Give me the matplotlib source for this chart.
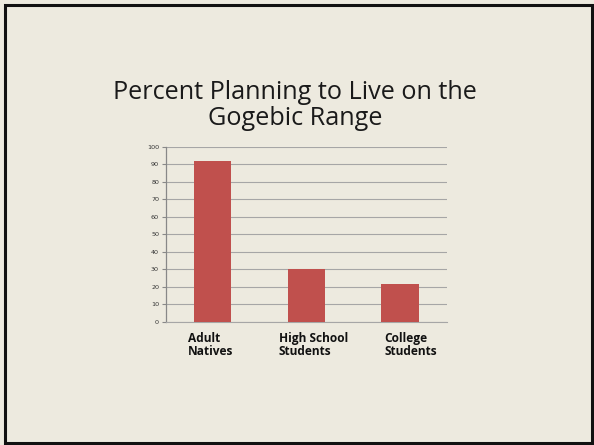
import matplotlib
matplotlib.use("Agg")
import matplotlib.pyplot as plt
from matplotlib.patches import Rectangle
from matplotlib.transforms import ScaledTranslation

categories = ["Adult\nNatives", "High School\nStudents", "College\nStudents"]
values = [91.7, 30.0, 21.7]
yticks = [0, 10, 20, 30, 40, 50, 60, 70, 80, 90, 100]
title_lines = ["Percent Planning to Live on the", "Gogebic Range"]

W, H = 594, 445
bg = "#EDEADF"
fig = plt.figure(figsize=(W / 100, H / 100), dpi=100, facecolor=bg)

# slide border
fig.patches.append(Rectangle((4.5 / W, 2.5 / H), 587.5 / W, 438 / H, transform=fig.transFigure,
                             fill=False, edgecolor="#111111", linewidth=2.2))

# title
fig.text(295 / W, 1 - 99.3 / H, title_lines[0], ha="center", va="baseline",
         fontsize=18.2, family="Open Sans", color="#1a1a1a")
fig.text(295 / W, 1 - 125 / H, title_lines[1], ha="center", va="baseline",
         fontsize=18.2, family="Open Sans", color="#1a1a1a")

ax = fig.add_axes([166 / W, 1 - 322 / H, 280.7 / W, 175.3 / H])
ax.set_facecolor(bg)
x = list(range(len(categories)))
ax.bar(x, values, width=0.4, color="#C0504D", zorder=3)
ax.set_xlim(-0.5, len(categories) - 0.5)
ax.set_ylim(0, 100)
ax.set_yticks(yticks)
ax.set_yticklabels([str(t) for t in yticks], fontsize=4.6, family="DejaVu Sans", color="#333333")
ax.tick_params(axis="y", length=3, width=0.8, color="#888888", pad=2)
ax.yaxis.grid(True, color="#A6A6A6", linewidth=0.8, zorder=0)
ax.set_axisbelow(True)
for s in ["top", "right"]:
    ax.spines[s].set_visible(False)
ax.spines["left"].set_color("#888888")
ax.spines["bottom"].set_color("#A6A6A6")
ax.spines["left"].set_linewidth(0.9)
ax.spines["bottom"].set_linewidth(0.8)

ax.set_xticks(x)
ax.set_xticklabels(categories, fontsize=8.6, family="Open Sans", fontweight="bold",
                   multialignment="left", color="#111111", linespacing=1.0)
ax.tick_params(axis="x", length=0, pad=7)
# small horizontal shifts of the category labels (pixels)
for lab, dx in zip(ax.get_xticklabels(), [-2, 7, 11]):
    lab.set_transform(lab.get_transform() + ScaledTranslation(dx / 100, 0, fig.dpi_scale_trans))

fig.savefig("out.png", dpi=100, facecolor=bg)
